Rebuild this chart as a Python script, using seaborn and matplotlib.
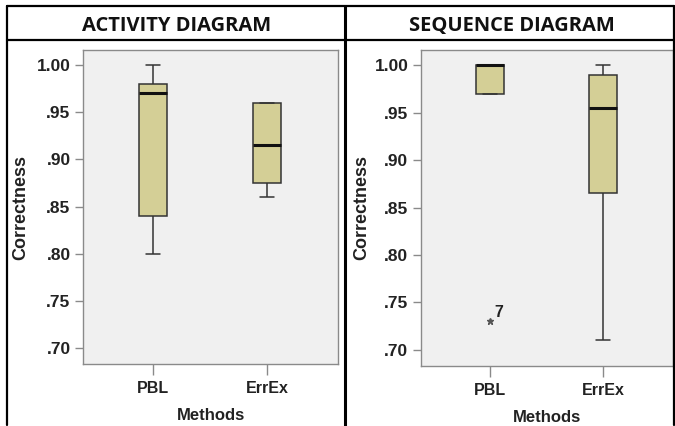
import numpy as np
import pandas as pd
import seaborn as sns
from matplotlib import pyplot as plt
from matplotlib.lines import Line2D
from matplotlib.ticker import FuncFormatter

methods = ["PBL", "ErrEx"]
activity_pbl = [0.80, 0.84, 0.97, 0.98, 1.00]
activity_errex = [0.86, 0.875, 0.915, 0.96, 0.96]
sequence_pbl = [0.73, 0.97, 1.00, 1.00, 1.00]
sequence_errex = [0.71, 0.865, 0.955, 0.99, 1.00]
panel_titles = ["ACTIVITY DIAGRAM", "SEQUENCE DIAGRAM"]
y_ticks = [0.70, 0.75, 0.80, 0.85, 0.90, 0.95, 1.00]
outlier_label = "7"

W, H = 675, 426
sns.set_theme(style="white")
plt.rcParams["font.family"] = ["Liberation Sans", "DejaVu Sans"]

box_fill = "#d4cf96"
plot_bg = "#f0f0f0"
edge = "#333333"


def make_df(pbl, errex):
    return pd.DataFrame({
        "Methods": [methods[0]] * len(pbl) + [methods[1]] * len(errex),
        "Correctness": pbl + errex,
    })


def fig_rect(x0, y0, x1, y1):
    # pixel box (top-left origin) -> figure fraction
    return [x0 / W, 1 - y1 / H, (x1 - x0) / W, (y1 - y0) / H]


fig = plt.figure(figsize=(W / 100, H / 100), dpi=100)

# last item: x pixel of the y-label's right edge
frames = [
    (make_df(activity_pbl, activity_errex), fig_rect(83, 50, 338, 364), 29 / W),
    (make_df(sequence_pbl, sequence_errex), fig_rect(421, 50, 673, 366), 370 / W),
]

axes = []
for (df, rect, ylab_x) in frames:
    ax = fig.add_axes(rect)
    sns.boxplot(
        data=df, x="Methods", y="Correctness", order=methods, ax=ax,
        color=box_fill, width=0.25, whis=1.5, saturation=1,
        linewidth=1.1, linecolor=edge,
        medianprops=dict(color="#111111", linewidth=2.2),
        capprops=dict(color=edge, linewidth=1.1),
        whiskerprops=dict(color=edge, linewidth=1.1),
        flierprops=dict(marker="*", markersize=5, markerfacecolor="#555555",
                        markeredgecolor="#555555"),
        capwidths=0.12,
    )
    ax.set_facecolor(plot_bg)
    ax.set_xlim(-0.614, 1.62)
    ax.set_ylim(0.683, 1.016)
    ax.set_yticks(y_ticks)
    ax.yaxis.set_major_formatter(FuncFormatter(
        lambda v, p: f"{v:.2f}" if v >= 1 else f"{v:.2f}".lstrip("0")))
    for s in ax.spines.values():
        s.set_color("#8a8a8a")
        s.set_linewidth(1.0)
    ax.tick_params(axis="y", which="major", length=6, width=1, color="#8a8a8a",
                   labelsize=12.5, pad=3, left=True)
    ax.tick_params(axis="x", which="major", length=8, width=1, color="#8a8a8a",
                   labelsize=11.5, pad=4, bottom=True)
    for lab in ax.get_yticklabels() + ax.get_xticklabels():
        lab.set_fontweight("bold")
        lab.set_color("#222222")
    ax.set_xlabel("Methods", fontsize=12, fontweight="bold", color="#222222")
    ax.set_ylabel("Correctness", fontsize=13, fontweight="bold", color="#222222")
    ax.xaxis.set_label_coords(0.5, -0.14)
    # y-label position in figure fraction converted to axes fraction
    ax.yaxis.set_label_coords((ylab_x - rect[0]) / rect[2], 0.5)
    axes.append(ax)

# outlier case number in the sequence panel
axes[1].annotate(outlier_label, xy=(0, sequence_pbl[0]), xytext=(3, 1),
                 textcoords="offset points", fontsize=11.5, fontweight="bold",
                 color="#222222", ha="left", va="bottom")

# title boxes and frame lines
frame_kw = dict(color="black", linewidth=1.6, transform=fig.transFigure)
fig.add_artist(Line2D([7 / W, 674 / W], [1 - 6 / H, 1 - 6 / H], **frame_kw))
fig.add_artist(Line2D([7 / W, 674 / W], [1 - 40 / H, 1 - 40 / H], **frame_kw))
fig.add_artist(Line2D([7 / W, 7 / W], [1 - 6 / H, 1 - 425 / H], **frame_kw))
fig.add_artist(Line2D([345 / W, 345 / W], [1 - 6 / H, 1 - 426 / H],
                      color="black", linewidth=2.2, transform=fig.transFigure))
fig.add_artist(Line2D([674 / W, 674 / W], [1 - 6 / H, 1 - 425 / H], **frame_kw))

for title, cx in zip(panel_titles, [177, 512]):
    fig.text(cx / W, 1 - 26 / H, title, ha="center", va="center",
             fontsize=14.5, fontweight="bold", family=["Open Sans", "DejaVu Sans"],
             color="#111111")

fig.savefig("out.png", dpi=100)
